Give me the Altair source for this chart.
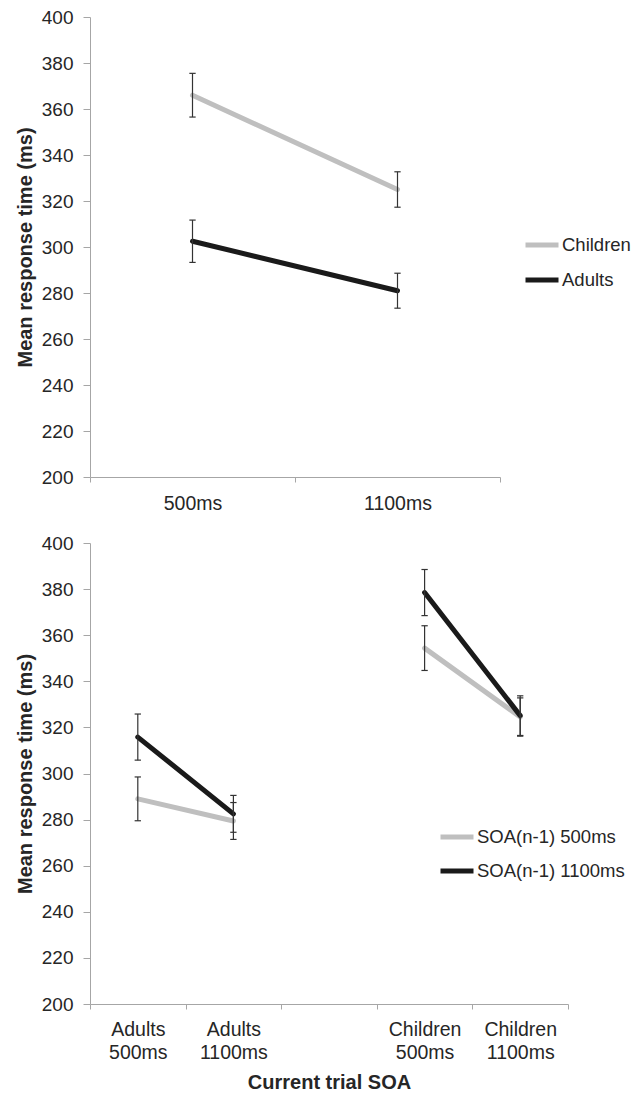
import altair as alt
import pandas as pd

# ---- top panel data ----
top_x = ["500ms", "1100ms"]
top_series = ["Children", "Adults"]
children_mean = [366.0, 325.0]
children_err = [9.5, 7.7]
adults_mean = [302.5, 281.0]
adults_err = [9.2, 7.6]

# ---- bottom panel data ----
bot_x = ["Adults 500ms", "Adults 1100ms", " ", "Children 500ms", "Children 1100ms"]
bot_group = ["Adults", "Adults", None, "Children", "Children"]
bot_series = ["SOA(n-1) 500ms", "SOA(n-1) 1100ms"]
soa500_mean = [289.0, 279.4, None, 354.4, 324.5]
soa500_err = [9.5, 8.0, None, 9.7, 8.3]
soa1100_mean = [315.8, 282.5, None, 378.5, 325.1]
soa1100_err = [10.0, 8.0, None, 10.0, 8.6]

colors = ["#bfbfbf", "#1a1a1a"]
FONT = "Liberation Sans"
TXT = "#262626"
AX = "#a6a6a6"

rows = []
for s, means, errs in [(top_series[0], children_mean, children_err), (top_series[1], adults_mean, adults_err)]:
    for x, m, e in zip(top_x, means, errs):
        rows.append({"cond": x, "series": s, "grp": "all", "mean": m, "lo": m - e, "hi": m + e})
top_df = pd.DataFrame(rows)

rows = []
for s, means, errs in [(bot_series[0], soa500_mean, soa500_err), (bot_series[1], soa1100_mean, soa1100_err)]:
    for x, g, m, e in zip(bot_x, bot_group, means, errs):
        if m is None:
            continue
        rows.append({"cond": x, "series": s, "grp": g, "mean": m, "lo": m - e, "hi": m + e})
bot_df = pd.DataFrame(rows)


def panel(df, domain, series, width, height, xtitle, lx, ly, rowpad, multiline, lpad):
    xaxis = dict(labelAngle=0, tickBand="extent", domainColor=AX, tickColor=AX, tickSize=5,
                 labelFontSize=19.5, labelColor=TXT, labelPadding=lpad, labelFont=FONT,
                 titleFontSize=20, titleFontWeight="bold", titleColor=TXT, titleFont=FONT,
                 titlePadding=11)
    if multiline:
        xaxis["labelExpr"] = "split(datum.label, ' ')"
        xaxis["labelLineHeight"] = 23
    x = alt.X("cond:N", sort=domain,
              scale=alt.Scale(domain=domain, paddingInner=0, paddingOuter=0),
              axis=alt.Axis(title=xtitle, **xaxis) if xtitle else alt.Axis(title=None, **xaxis),
              bandPosition=0.5)
    y = alt.Y("mean:Q", scale=alt.Scale(domain=[200, 400], nice=False, zero=False),
              axis=alt.Axis(title="Mean response time (ms)", values=list(range(200, 401, 20)),
                            grid=False, domainColor=AX, tickColor=AX, tickSize=7,
                            labelFontSize=19, labelColor=TXT, labelPadding=10, labelFont=FONT,
                            titleFontSize=20, titleFontWeight="bold", titleColor=TXT,
                            titleFont=FONT, titlePadding=6))
    color = alt.Color("series:N", scale=alt.Scale(domain=series, range=colors),
                      legend=alt.Legend(title=None, orient="none", legendX=lx, legendY=ly,
                                        padding=0, symbolType="stroke", symbolStrokeWidth=5,
                                        symbolSize=1089, labelFontSize=18.5, labelColor=TXT,
                                        labelFont=FONT, rowPadding=rowpad, labelOffset=1))
    base = alt.Chart(df)
    lines = base.mark_line(strokeWidth=5, strokeCap="round").encode(
        x=x, y=y, color=color, detail="grp:N", order=alt.Order("cond:N"))
    rules = base.mark_rule(color="#333333", strokeWidth=1.2).encode(
        x=x, y=alt.Y("lo:Q"), y2="hi:Q")
    cap_lo = base.mark_point(shape="stroke", size=40, color="#333333", strokeWidth=1.2,
                             opacity=1).encode(x=x, y=alt.Y("lo:Q"))
    cap_hi = base.mark_point(shape="stroke", size=40, color="#333333", strokeWidth=1.2,
                             opacity=1).encode(x=x, y=alt.Y("hi:Q"))
    return alt.layer(lines, rules, cap_lo, cap_hi).properties(width=width, height=height)


top = panel(top_df, top_x, top_series, 410, 460, None, 433, 209, 6, False, 12)
bot = panel(bot_df, bot_x, bot_series, 478, 461, "Current trial SOA", 348, 275, 5, True, 11)

chart = alt.vconcat(top, bot, spacing=21).resolve_scale(color="independent").properties(
    padding={"left": 7, "top": 0, "right": 0, "bottom": 0}
).configure(font=FONT, view=alt.ViewConfig(strokeWidth=0, stroke="transparent"))

chart.save("out.html", embed_options={"renderer": "svg", "actions": False})
